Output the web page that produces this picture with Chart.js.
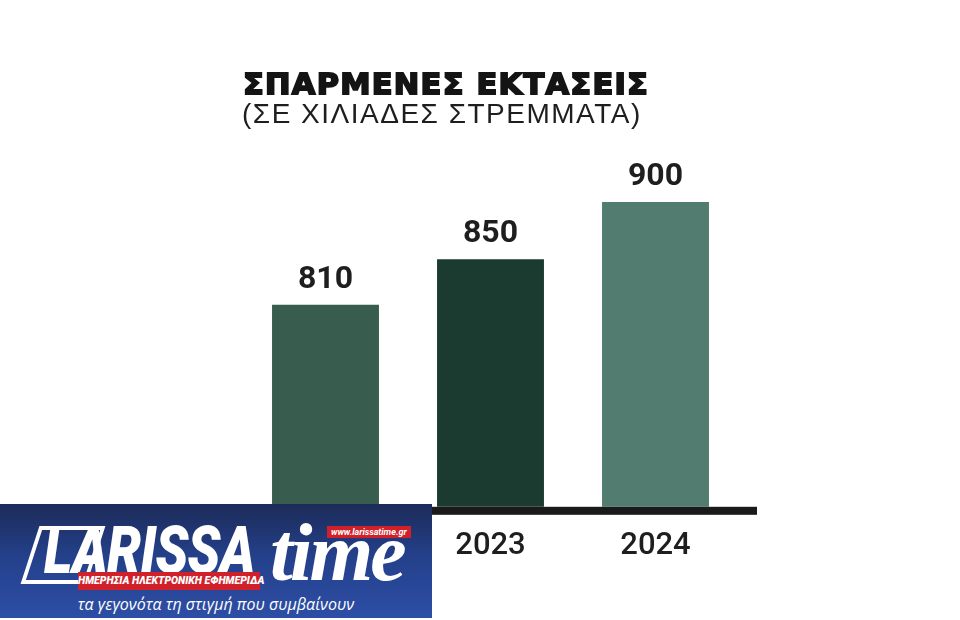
<!DOCTYPE html>
<html>
<head>
<meta charset="utf-8">
<script src="https://cdn.jsdelivr.net/npm/chart.js@4.4.1/dist/chart.umd.min.js"></script>
<style>
  html, body { margin: 0; padding: 0; background: #ffffff; }
  #wrap { position: relative; width: 960px; height: 620px; overflow: hidden; background: #fff; }
  #c { position: absolute; left: 0; top: 0; }
  .title { position: absolute; left: 243px; top: 67px; font-family: "DejaVu Sans", sans-serif; font-weight: 700; font-size: 29px; color: #141414; white-space: nowrap; letter-spacing: 1.2px; -webkit-text-stroke: 1.8px #141414; transform: scaleX(1.05); transform-origin: left top; }
  .subtitle { position: absolute; left: 242px; top: 98px; font-family: "Liberation Sans", Arial, sans-serif; font-weight: 400; font-size: 28px; color: #1e1e1e; white-space: nowrap; letter-spacing: 1.5px; }
  #logo { position: absolute; left: 0; top: 504px; width: 432px; height: 114px; background: linear-gradient(180deg, #1c2b58 0%, #24408a 45%, #2d4ea6 100%); overflow: hidden; }
  #logo .lbox { position: absolute; left: 30px; top: 22px; width: 58px; height: 50px; border: 4px solid #fff; transform: skewX(-18deg); }
  #logo .big { position: absolute; left: 44px; top: 8px; font-family: Roboto, sans-serif; font-weight: 900; font-style: italic; font-size: 66px; color: #fff; transform: scaleX(0.82); transform-origin: left top; letter-spacing: -1px; }
  #logo .time { position: absolute; left: 270px; top: 2px; font-family: "Liberation Serif", serif; font-weight: 700; font-style: italic; font-size: 82px; color: #fff; letter-spacing: -3px; }
  #logo .url { position: absolute; left: 327px; top: 22px; background: #d0202a; color: #fff; font-family: Roboto, sans-serif; font-weight: 700; font-style: italic; font-size: 9px; padding: 1px 4px; }
  #logo .band { position: absolute; left: 78px; top: 68px; width: 182px; height: 18px; background: #d0202a; color: #fff; font-family: Roboto, sans-serif; font-weight: 900; font-style: italic; font-size: 10.5px; line-height: 18px; text-align: center; white-space: nowrap; }
  #logo .tag { position: absolute; left: 0; width: 432px; top: 89px; text-align: center; color: #fff; font-family: "Open Sans", sans-serif; font-style: italic; font-size: 16px; white-space: nowrap; }
</style>
</head>
<body>
<div id="wrap">
  <canvas id="c" width="960" height="620"></canvas>
  <div class="title">ΣΠΑΡΜΕΝΕΣ ΕΚΤΑΣΕΙΣ</div>
  <div class="subtitle">(ΣΕ ΧΙΛΙΑΔΕΣ ΣΤΡΕΜΜΑΤΑ)</div>
  <div id="logo">
    <div class="lbox"></div>
    <div class="big">LARISSA</div>
    <div class="time">time</div>
    <div class="url">www.larissatime.gr</div>
    <div class="band">ΗΜΕΡΗΣΙΑ ΗΛΕΚΤΡΟΝΙΚΗ ΕΦΗΜΕΡΙΔΑ</div>
    <div class="tag">τα γεγονότα τη στιγμή που συμβαίνουν</div>
  </div>
</div>
<script>
const years = ['2022', '2023', '2024'];
const values = [810, 850, 900];
const barColors = ['#385c4e', '#1b3a30', '#517c6f'];

const valueLabels = {
  id: 'valueLabels',
  afterDatasetsDraw(chart) {
    const ctx = chart.ctx;
    const meta = chart.getDatasetMeta(0);
    ctx.save();
    ctx.fillStyle = '#1e1e1e';
    ctx.font = 'bold 32px Roboto, sans-serif';
    ctx.textAlign = 'center';
    ctx.textBaseline = 'alphabetic';
    meta.data.forEach((bar, i) => {
      ctx.fillText(String(values[i]), bar.x, bar.y - 17);
    });
    ctx.restore();
  }
};

const baseLine = {
  id: 'baseLine',
  afterDatasetsDraw(chart) {
    const { ctx, chartArea } = chart;
    ctx.save();
    ctx.fillStyle = '#1a1a1a';
    ctx.fillRect(chartArea.left + 7, chartArea.bottom, chartArea.right - chartArea.left + 12, 8);
    ctx.restore();
  }
};

new Chart(document.getElementById('c'), {
  type: 'bar',
  data: {
    labels: years,
    datasets: [{
      data: values,
      backgroundColor: barColors,
      borderWidth: 0,
      categoryPercentage: 1,
      barPercentage: 0.648
    }]
  },
  options: {
    responsive: false,
    animation: false,
    events: [],
    layout: { padding: { left: 243, right: 222, top: 145, bottom: 34 } },
    plugins: { legend: { display: false }, title: { display: false }, tooltip: { enabled: false } },
    scales: {
      x: {
        grid: { display: false, drawTicks: false },
        border: { display: false },
        ticks: { color: '#1e1e1e', font: { family: 'Roboto, sans-serif', size: 31, weight: '500' }, padding: 21 }
      },
      y: { display: false, min: 633, max: 950 }
    }
  },
  plugins: [valueLabels, baseLine]
});
</script>
</body>
</html>
